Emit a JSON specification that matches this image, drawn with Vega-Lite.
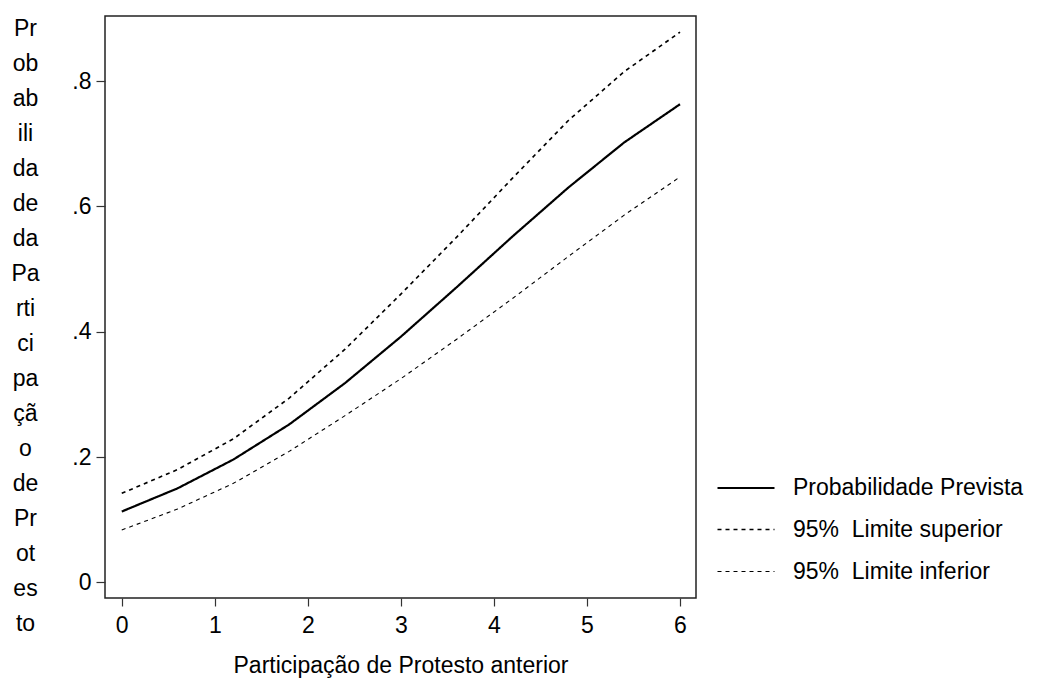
{
  "$schema": "https://vega.github.io/schema/vega-lite/v6.json",
  "width": 591,
  "height": 582,
  "autosize": "none",
  "padding": {"left": 105, "top": 16, "right": 358, "bottom": 86},
  "background": "white",
  "config": {
    "view": {"stroke": "#222", "strokeWidth": 1.5},
    "font": "Liberation Sans"
  },
  "data": {
    "values": [
      {"x": 0, "p": 0.113, "s": "Probabilidade Prevista"},
      {"x": 0.6, "p": 0.150, "s": "Probabilidade Prevista"},
      {"x": 1.2, "p": 0.196, "s": "Probabilidade Prevista"},
      {"x": 1.8, "p": 0.252, "s": "Probabilidade Prevista"},
      {"x": 2.4, "p": 0.318, "s": "Probabilidade Prevista"},
      {"x": 3.0, "p": 0.392, "s": "Probabilidade Prevista"},
      {"x": 3.6, "p": 0.471, "s": "Probabilidade Prevista"},
      {"x": 4.2, "p": 0.552, "s": "Probabilidade Prevista"},
      {"x": 4.8, "p": 0.630, "s": "Probabilidade Prevista"},
      {"x": 5.4, "p": 0.702, "s": "Probabilidade Prevista"},
      {"x": 6.0, "p": 0.763, "s": "Probabilidade Prevista"},
      {"x": 0, "p": 0.142, "s": "95%\u00a0 Limite superior"},
      {"x": 0.6, "p": 0.180, "s": "95%\u00a0 Limite superior"},
      {"x": 1.2, "p": 0.229, "s": "95%\u00a0 Limite superior"},
      {"x": 1.8, "p": 0.294, "s": "95%\u00a0 Limite superior"},
      {"x": 2.4, "p": 0.372, "s": "95%\u00a0 Limite superior"},
      {"x": 3.0, "p": 0.460, "s": "95%\u00a0 Limite superior"},
      {"x": 3.6, "p": 0.551, "s": "95%\u00a0 Limite superior"},
      {"x": 4.2, "p": 0.645, "s": "95%\u00a0 Limite superior"},
      {"x": 4.8, "p": 0.737, "s": "95%\u00a0 Limite superior"},
      {"x": 5.4, "p": 0.815, "s": "95%\u00a0 Limite superior"},
      {"x": 6.0, "p": 0.878, "s": "95%\u00a0 Limite superior"},
      {"x": 0, "p": 0.0835, "s": "95%\u00a0 Limite inferior"},
      {"x": 0.6, "p": 0.117, "s": "95%\u00a0 Limite inferior"},
      {"x": 1.2, "p": 0.158, "s": "95%\u00a0 Limite inferior"},
      {"x": 1.8, "p": 0.209, "s": "95%\u00a0 Limite inferior"},
      {"x": 2.4, "p": 0.266, "s": "95%\u00a0 Limite inferior"},
      {"x": 3.0, "p": 0.325, "s": "95%\u00a0 Limite inferior"},
      {"x": 3.6, "p": 0.388, "s": "95%\u00a0 Limite inferior"},
      {"x": 4.2, "p": 0.453, "s": "95%\u00a0 Limite inferior"},
      {"x": 4.8, "p": 0.520, "s": "95%\u00a0 Limite inferior"},
      {"x": 5.4, "p": 0.586, "s": "95%\u00a0 Limite inferior"},
      {"x": 6.0, "p": 0.647, "s": "95%\u00a0 Limite inferior"}
    ]
  },
  "mark": {"type": "line", "color": "black", "clip": true},
  "encoding": {
    "x": {
      "field": "x",
      "type": "quantitative",
      "scale": {"domain": [-0.18, 6.172], "nice": false, "zero": false},
      "axis": {
        "values": [0, 1, 2, 3, 4, 5, 6],
        "domain": false,
        "grid": false,
        "tickSize": 8,
        "tickColor": "#333",
        "tickWidth": 1.2,
        "labelFont": "Liberation Sans",
        "labelFontSize": 23,
        "labelColor": "black",
        "labelPadding": 8,
        "title": "Participação de Protesto anterior",
        "titleFont": "Liberation Sans",
        "titleFontSize": 23,
        "titleFontWeight": "normal",
        "titleColor": "black",
        "titlePadding": 17
      }
    },
    "y": {
      "field": "p",
      "type": "quantitative",
      "scale": {"domain": [-0.025, 0.9038], "nice": false, "zero": false},
      "axis": {
        "values": [0, 0.2, 0.4, 0.6, 0.8],
        "labelExpr": "datum.value == 0 ? '0' : substring(format(datum.value, '.1f'), 1)",
        "domain": false,
        "grid": false,
        "tickSize": 9,
        "tickColor": "#333",
        "tickWidth": 1.2,
        "labelFont": "Liberation Sans",
        "labelFontSize": 23,
        "labelColor": "black",
        "labelPadding": 5,
        "title": ["Pr", "ob", "ab", "ili", "da", "de", "da", "Pa", "rti", "ci", "pa", "çã", "o", "de", "Pr", "ot", "es", "to"],
        "titleFont": "Liberation Sans",
        "titleFontSize": 23,
        "titleFontWeight": "normal",
        "titleColor": "black",
        "titleAngle": 0,
        "titleAlign": "center",
        "titleBaseline": "alphabetic",
        "titleLineHeight": 35.0,
        "titleX": -80,
        "titleY": 19.5
      }
    },
    "strokeDash": {
      "field": "s",
      "type": "nominal",
      "scale": {
        "domain": ["Probabilidade Prevista", "95%\u00a0 Limite superior", "95%\u00a0 Limite inferior"],
        "range": [[1, 0], [4, 4], [4, 4]]
      },
      "legend": {
        "title": null,
        "orient": "none",
        "legendX": 611,
        "legendY": 442,
        "symbolType": "stroke",
        "symbolSize": 3249,
        "symbolStrokeColor": "black",
        "symbolStrokeWidth": 1.2,
        "labelFont": "Liberation Sans",
        "labelFontSize": 23,
        "labelColor": "black",
        "labelOffset": 17,
        "labelLimit": 0,
        "rowPadding": 0
      }
    },
    "strokeWidth": {
      "field": "s",
      "type": "nominal",
      "scale": {
        "domain": ["Probabilidade Prevista", "95%\u00a0 Limite superior", "95%\u00a0 Limite inferior"],
        "range": [2.2, 1.1, 1.1]
      },
      "legend": null
    }
  }
}
